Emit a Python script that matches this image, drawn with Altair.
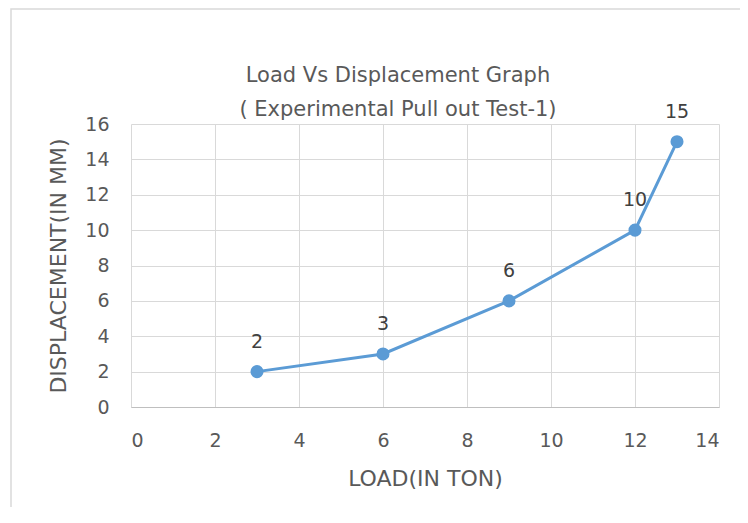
import altair as alt
import pandas as pd

load = [3, 6, 9, 12, 13]
displacement = [2, 3, 6, 10, 15]
labels = ["2", "3", "6", "10", "15"]
title_lines = ["Load Vs Displacement Graph", "( Experimental Pull out Test-1)"]

df = pd.DataFrame({"load": load, "disp": displacement, "label": labels})

FONT = "DejaVu Sans"
GREY = "#595959"
BLUE = "#5B9BD5"

x = alt.X("load:Q", scale=alt.Scale(domain=[0, 14], nice=False),
          axis=alt.Axis(values=list(range(0, 15, 2)), title="LOAD(IN TON)",
                        grid=True, gridColor="#D9D9D9", domainColor="#BFBFBF",
                        ticks=False, labelPadding=24, labelFontSize=19,
                        labelColor=GREY, titleFontSize=22, titleColor=GREY,
                        titleFontWeight="normal", titlePadding=18,
                        labelOverlap=False,
                        labelFont=FONT, titleFont=FONT))
y = alt.Y("disp:Q", scale=alt.Scale(domain=[0, 16], nice=False),
          axis=alt.Axis(values=list(range(0, 17, 2)), title="DISPLACEMENT(IN MM)",
                        grid=True, gridColor="#D9D9D9", domain=False,
                        ticks=False, labelPadding=22, labelFontSize=19,
                        labelColor=GREY, titleFontSize=22, titleColor=GREY,
                        titleFontWeight="normal", titlePadding=14,
                        labelOverlap=False,
                        labelFont=FONT, titleFont=FONT))

base = alt.Chart(df)
line = base.mark_line(color=BLUE, strokeWidth=3).encode(x=x, y=y)
pts = base.mark_point(filled=True, color=BLUE, size=170, opacity=1).encode(x=x, y=y)
txt = base.mark_text(dy=-30, fontSize=19, color="#404040", font=FONT).encode(
    x=x, y=y, text="label:N")

tdf = pd.DataFrame({"t": title_lines, "yy": [-48, -14]})
title = alt.Chart(tdf).mark_text(fontSize=21, color=GREY, font=FONT, baseline="middle").encode(
    x=alt.value(267), y=alt.Y("yy:Q", scale=None), text="t:N")

border = alt.Chart(pd.DataFrame({"a": [0]})).mark_rect(
    fill=None, stroke="#D9D9D9", strokeWidth=1.5).encode(
    x=alt.value(-120), x2=alt.value(610), y=alt.value(-115), y2=alt.value(420))

chart = alt.layer(border, line, pts, txt, title).properties(
    width=588, height=283,
    autosize=alt.AutoSizeParams(type="none"),
    padding={"left": 123, "top": 116, "right": 21, "bottom": 100},
).configure_view(stroke=None)

chart.save("out.html", embed_options={"renderer": "svg", "actions": False})
